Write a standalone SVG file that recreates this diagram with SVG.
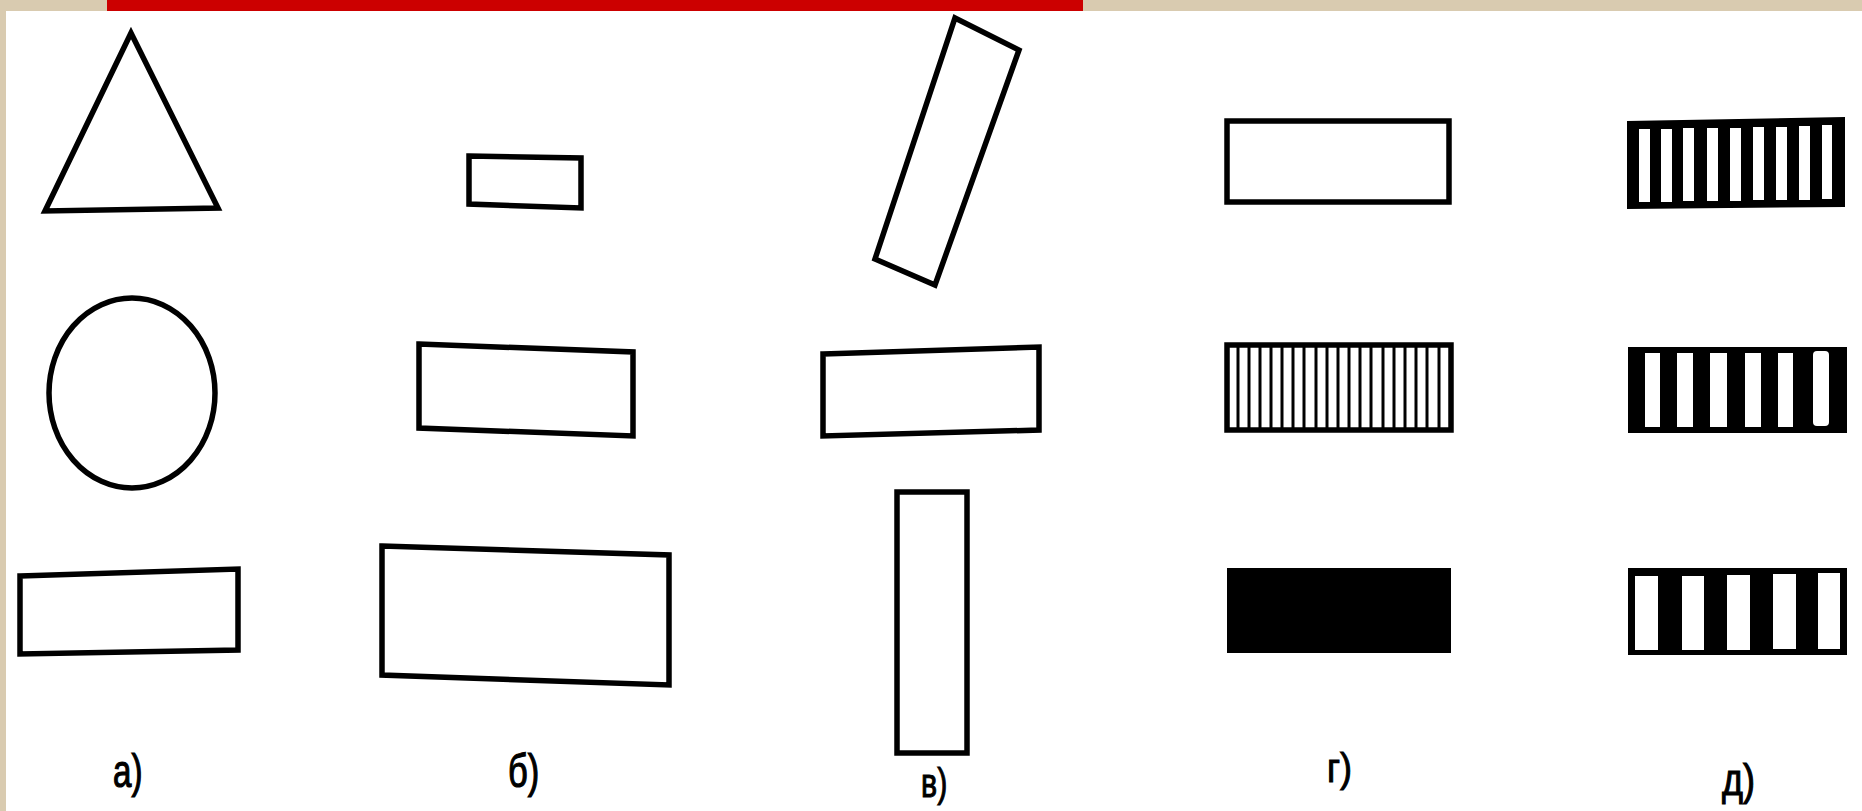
<svg xmlns="http://www.w3.org/2000/svg" width="1862" height="811" viewBox="0 0 1862 811">
<style>
.o{fill:none;stroke:#000;stroke-width:5.5;stroke-linejoin:miter}
.h{stroke:#000;stroke-width:3}
.w{fill:#fff}
.k{fill:#000}
.lbl{font-family:"Liberation Sans",Arial,sans-serif;font-size:46px;fill:#000;stroke:#000;stroke-width:1.2}
</style>
<rect x="0" y="0" width="1862" height="811" fill="#d9cbb0"/>
<rect x="6" y="11" width="1856" height="800" fill="#fff"/>
<rect x="107" y="0" width="976" height="11" fill="#cc0000"/>

<g id="col-a">
<g id="a-triangle"><polygon class="o" points="131,33 45,211 218,208"/></g>
<g id="a-circle"><ellipse class="o" cx="132" cy="393" rx="83" ry="95"/></g>
<g id="a-rect"><polygon class="o" points="20,576 238,569 238,650 20,654"/></g>
</g>

<g id="col-b">
<g id="b-small"><polygon class="o" points="469,156 581,158 581,208 469,204"/></g>
<g id="b-mid"><polygon class="o" points="419,344 633,352 633,436 419,428"/></g>
<g id="b-large"><polygon class="o" points="382,546 669,555 669,685 382,675"/></g>
</g>

<g id="col-v">
<g id="v-tilted"><polygon class="o" points="955,18 1019,50 935,285 875,259"/></g>
<g id="v-horiz"><polygon class="o" points="823,354 1039,347 1039,430 823,436"/></g>
<g id="v-vert"><rect class="o" x="897" y="492" width="70" height="261"/></g>
</g>

<g id="col-g">
<g id="g-plain"><rect class="o" x="1227" y="121" width="222" height="81"/></g>
<g id="g-hatched">
<rect class="o" x="1227" y="345" width="224" height="85"/>
<path class="h" d="M1238,345V430M1249,345V430M1260,345V430M1271,345V430M1282,345V430M1293,345V430M1304,345V430M1316,345V430M1327,345V430M1338,345V430M1349,345V430M1360,345V430M1371,345V430M1383,345V430M1394,345V430M1405,345V430M1416,345V430M1427,345V430M1439,345V430"/>
</g>
<g id="g-black"><rect class="k" x="1227" y="568" width="224" height="85"/></g>
</g>

<g id="col-d">
<g id="d-fine">
<polygon class="k" points="1627,121 1845,117 1845,207 1627,209"/>
<rect class="w" x="1639" y="129" width="11" height="73"/>
<rect class="w" x="1661" y="129" width="11" height="73"/>
<rect class="w" x="1683" y="128" width="11" height="73"/>
<rect class="w" x="1707" y="128" width="11" height="73"/>
<rect class="w" x="1730" y="128" width="11" height="73"/>
<rect class="w" x="1753" y="127" width="11" height="73"/>
<rect class="w" x="1776" y="127" width="11" height="73"/>
<rect class="w" x="1799" y="126" width="11" height="74"/>
<rect class="w" x="1822" y="125" width="10" height="74"/>
</g>
<g id="d-medium">
<rect class="k" x="1628" y="347" width="219" height="86"/>
<rect class="w" x="1645" y="353" width="15" height="74"/>
<rect class="w" x="1677" y="353" width="16" height="74"/>
<rect class="w" x="1710" y="353" width="17" height="74"/>
<rect class="w" x="1745" y="353" width="16" height="74"/>
<rect class="w" x="1778" y="353" width="15" height="74"/>
<rect class="w" x="1813" y="351" width="16" height="75" rx="4"/>
</g>
<g id="d-coarse">
<rect class="k" x="1628" y="568" width="219" height="87"/>
<rect class="w" x="1635" y="576" width="23" height="74"/>
<rect class="w" x="1682" y="576" width="22" height="74"/>
<rect class="w" x="1727" y="575" width="23" height="75"/>
<rect class="w" x="1773" y="574" width="23" height="75"/>
<rect class="w" x="1818" y="573" width="22" height="76"/>
</g>
</g>

<g id="labels">
<text class="lbl" transform="translate(113,787) scale(0.72,1)">а)</text>
<text class="lbl" transform="translate(508,787) scale(0.75,1)">б)</text>
<text class="lbl" transform="translate(921,797) scale(0.66,0.9)">в)</text>
<text class="lbl" transform="translate(1327,782) scale(0.78,0.9)">г)</text>
<text class="lbl" transform="translate(1722,795) scale(0.78,0.95)">д)</text>
</g>
</svg>
